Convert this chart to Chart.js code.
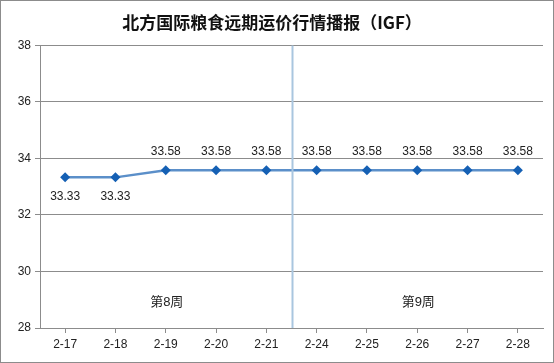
<!DOCTYPE html>
<html>
<head>
<meta charset="utf-8">
<script src="https://cdn.jsdelivr.net/npm/chart.js@4"></script>
<style>
  body { margin: 0; background: #fff; }
  #wrap { width: 554px; height: 363px; box-sizing: border-box; border: 1px solid #8c8c8c; }
</style>
</head>
<body>
<div id="wrap"><canvas id="chart" width="552" height="361"></canvas></div>
<script>
const dates = ['2-17', '2-18', '2-19', '2-20', '2-21', '2-24', '2-25', '2-26', '2-27', '2-28'];
const rates = [33.33, 33.33, 33.58, 33.58, 33.58, 33.58, 33.58, 33.58, 33.58, 33.58];
const weekNames = ['第8周', '第9周'];
const weekCenters = ['2-19', '2-26'];

const txtFont = '"Liberation Sans", Arial, "Noto Sans CJK SC", sans-serif';

// labels, week names and the week separator
const extras = {
  id: 'extras',
  afterDatasetsDraw(chart) {
    const ctx = chart.ctx;
    const x = chart.scales.x, y = chart.scales.y;
    ctx.save();
    // separator between weeks
    const sx = Math.round(x.getPixelForValue(4.5)) + 0.5;
    ctx.strokeStyle = '#a9c6df';
    ctx.lineWidth = 2;
    ctx.beginPath();
    ctx.moveTo(sx, y.top);
    ctx.lineTo(sx, y.bottom);
    ctx.stroke();

    ctx.font = '12px ' + txtFont;
    ctx.fillStyle = '#222';
    ctx.textAlign = 'center';
    ctx.textBaseline = 'middle';
    chart.getDatasetMeta(0).data.forEach((pt, i) => {
      const dy = i < 2 ? 19 : -19;
      ctx.fillText(rates[i].toFixed(2), pt.x, pt.y + dy);
    });
    ctx.font = '13px ' + txtFont;
    weekNames.forEach((w, i) => {
      ctx.fillText(w, x.getPixelForValue(dates.indexOf(weekCenters[i])) + 1, y.getPixelForValue(28.9));
    });
    ctx.restore();
  }
};

new Chart(document.getElementById('chart'), {
  type: 'line',
  data: {
    labels: dates,
    datasets: [{
      data: rates,
      borderColor: '#5b8fc9',
      borderWidth: 2.5,
      pointStyle: 'rectRot',
      pointRadius: 5,
      pointBackgroundColor: '#1560b4',
      pointBorderColor: '#1560b4',
      pointBorderWidth: 0,
      tension: 0
    }]
  },
  options: {
    responsive: false,
    animation: false,
    layout: { padding: { left: 0, right: 10, top: 0, bottom: 0 } },
    plugins: {
      legend: { display: false },
      tooltip: { enabled: false },
      title: {
        display: true,
        text: '北方国际粮食远期运价行情播报（IGF）',
        color: '#111',
        font: { family: '"Noto Sans CJK SC", sans-serif', size: 17, weight: 'bold' },
        padding: { top: 11, bottom: 13 }
      }
    },
    scales: {
      x: {
        offset: true,
        grid: { display: true, drawOnChartArea: false, color: '#8c8c8c', tickLength: 5 },
        border: { color: '#8c8c8c' },
        ticks: { color: '#222', font: { family: txtFont, size: 12 }, padding: 4 },
        afterFit(s) { s.height = 34; }
      },
      y: {
        min: 28,
        max: 38,
        ticks: { stepSize: 2, color: '#222', font: { family: txtFont, size: 12 }, padding: 4 },
        grid: { color: '#8c8c8c', tickLength: 5 },
        border: { color: '#8c8c8c' },
        afterFit(s) { s.width = 39; }
      }
    }
  },
  plugins: [extras]
});
</script>
</body>
</html>
